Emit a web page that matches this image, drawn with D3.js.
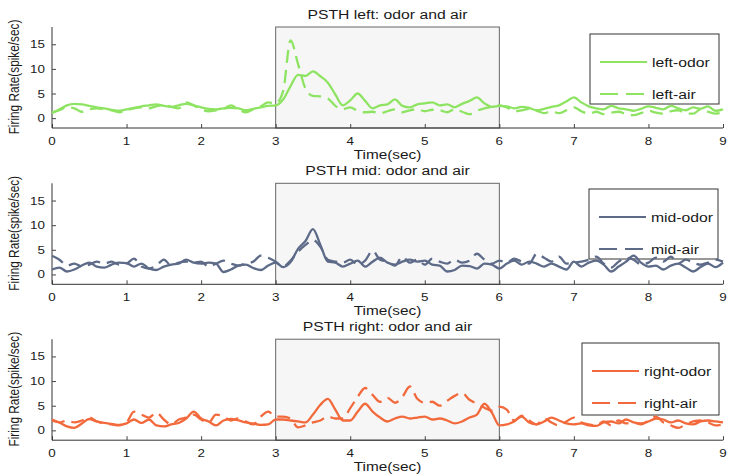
<!DOCTYPE html>
<html><head><meta charset="utf-8">
<script src="https://cdn.jsdelivr.net/npm/d3@7"></script>
<style>body{margin:0;background:#fff}svg{display:block}</style>
</head><body>
<svg id="c" width="732" height="476"></svg>
<script>
const times = d3.range(0, 9.0001, 0.1).map(t => +t.toFixed(1));
const xTicks = [0,1,2,3,4,5,6,7,8,9];
const yTicks = [0,5,10,15];
const stimulus = [3, 6];
const panelNames = ["left", "mid", "right"];
const panelTitles = ["PSTH left: odor and air", "PSTH mid: odor and air", "PSTH right: odor and air"];
const legendOdor = ["left-odor", "mid-odor", "right-odor"];
const legendAir = ["left-air", "mid-air", "right-air"];
const colors = ["#8ee462", "#5d6b88", "#f26a3c"];

const leftOdor = [1.0,1.8,2.6,2.9,2.8,2.5,2.2,2.0,1.7,1.5,
 1.8,2.1,2.4,2.6,2.8,2.5,2.3,2.6,2.9,2.6,
 2.2,1.9,1.8,2.0,2.1,2.0,1.6,1.9,2.2,2.5,
 2.6,3.8,6.5,8.8,8.6,9.5,8.5,7.2,4.8,2.6,
 3.6,5.0,3.5,2.0,2.6,2.8,3.8,2.5,2.2,2.8,
 3.0,3.2,2.6,2.8,2.2,2.9,3.5,4.2,3.0,2.3,
 2.5,2.4,2.0,2.3,2.1,1.6,1.9,2.3,2.6,3.4,
 4.2,3.2,2.4,2.0,1.8,2.5,2.0,1.8,1.5,1.9,
 2.4,2.1,1.8,2.5,2.0,1.6,2.2,1.9,2.4,1.5,1.8];
const leftAir = [1.2,1.6,2.2,2.0,1.3,1.8,2.0,1.8,1.6,1.2,
 1.6,2.0,2.2,2.0,2.4,2.7,2.3,2.0,3.2,2.6,
 1.8,1.4,1.6,1.9,2.6,1.8,1.2,1.8,2.4,3.2,
 3.0,5.5,15.8,11.0,6.0,4.5,4.4,4.0,2.5,1.8,
 2.2,1.5,1.2,1.3,1.0,1.4,1.8,1.2,1.6,1.8,
 1.4,1.7,1.6,1.2,1.8,1.3,0.8,1.5,2.0,2.3,
 2.6,2.2,1.4,1.6,1.9,1.5,1.0,1.4,1.0,1.6,
 2.2,1.4,0.9,1.3,0.8,1.1,1.3,0.8,0.6,1.0,
 1.5,1.1,0.9,1.4,1.6,1.0,0.9,1.8,1.3,0.9,1.4];
const midOdor = [1.0,1.4,0.6,1.0,1.8,2.4,1.6,1.4,2.0,2.4,
 2.3,1.6,2.2,1.2,0.9,1.6,2.0,2.2,3.0,2.4,
 2.2,2.4,2.2,0.5,1.0,1.8,2.0,1.3,0.9,1.8,
 2.4,1.5,2.5,5.2,6.8,9.2,6.0,2.6,2.4,1.6,
 2.2,2.8,1.6,2.6,3.4,2.4,2.0,2.6,3.0,2.6,
 2.8,2.0,1.8,0.6,0.9,1.8,1.7,1.2,2.2,2.0,
 1.2,2.2,2.8,2.0,2.6,2.2,1.6,2.2,1.6,1.0,
 2.6,1.6,2.4,2.8,2.0,0.6,1.6,2.6,3.8,2.4,
 1.6,1.8,1.0,1.8,2.2,1.4,0.6,1.5,2.2,1.5,2.4];
const midAir = [3.8,3.0,1.8,2.2,1.6,2.0,2.6,2.2,2.6,2.0,
 2.2,3.2,1.6,1.2,1.8,3.0,1.8,2.4,2.6,2.4,
 2.6,1.6,2.2,2.8,2.2,1.8,2.2,2.6,3.8,3.4,
 2.6,1.6,2.8,4.6,6.0,7.0,5.6,3.0,2.6,2.4,
 3.0,2.0,2.8,4.8,3.0,2.6,1.8,3.6,2.4,3.0,
 2.0,3.2,2.6,2.2,3.0,2.4,2.8,4.2,3.0,2.2,
 2.8,2.4,3.2,2.6,2.2,4.2,3.4,2.6,3.6,2.2,
 2.4,2.6,3.0,3.6,2.2,1.4,2.6,3.4,3.0,2.0,
 2.4,3.4,2.6,3.6,2.2,3.0,2.4,2.0,2.4,3.0,2.6];
const rightOdor = [2.2,1.6,0.8,0.5,1.4,2.3,1.8,1.5,1.3,1.1,
 1.4,2.2,1.5,2.2,1.0,0.8,1.2,1.5,2.4,3.8,
 2.4,1.8,1.0,2.0,2.3,2.0,1.6,1.4,1.1,1.2,
 2.2,2.2,2.0,1.8,1.6,3.2,5.2,6.4,4.2,2.0,
 2.0,3.8,5.4,3.8,2.6,1.8,2.4,2.8,2.4,2.6,
 2.8,2.2,2.4,2.0,1.4,1.8,2.6,3.2,5.4,3.6,
 1.0,1.2,1.8,2.8,1.6,1.2,1.8,2.6,2.0,1.4,
 1.2,1.4,1.0,0.9,1.6,1.8,1.4,2.2,1.6,1.4,
 1.8,2.4,2.2,1.6,2.0,1.4,1.2,1.8,2.0,1.8,1.6];
const rightAir = [2.0,1.6,2.0,1.6,2.0,2.6,1.8,1.4,1.2,1.0,
 1.6,3.8,3.2,2.6,3.6,2.2,1.2,2.2,2.6,3.2,
 2.2,1.6,3.2,2.8,2.0,2.4,1.8,1.2,2.8,3.8,
 2.8,2.8,2.4,0.6,1.0,1.6,2.0,2.8,2.4,2.4,
 4.5,6.8,8.6,7.2,5.8,6.6,5.6,6.8,8.9,6.4,
 5.6,5.8,5.0,6.0,7.0,7.6,6.2,5.4,4.6,4.0,
 4.8,4.2,2.0,3.0,2.0,1.2,2.4,1.6,1.0,1.8,
 2.6,1.6,1.2,1.0,1.8,1.0,2.0,1.4,1.6,1.2,
 2.0,2.8,1.6,1.0,0.5,1.2,1.8,2.0,1.6,1.0,1.2];

const odorSeries = [leftOdor, midOdor, rightOdor];
const airSeries = [leftAir, midAir, rightAir];

const SX = 1.28;
const FONT = "'Liberation Sans', Arial, sans-serif";
const svg = d3.select("#c");
const panelOffsets = [0, 156.3, 312.2];
const x = d3.scaleLinear().domain([0, 9]).range([52, 723]);

function txt(g, px, py, s, size, anchor, rot) {
  g.append("text")
    .attr("transform", `translate(${px},${py}) scale(${SX},1)` + (rot ? ` rotate(${rot})` : ""))
    .attr("text-anchor", anchor || "start")
    .attr("font-family", FONT).attr("font-size", size)
    .attr("fill", "#1a1a1a").text(s);
}

panelNames.forEach((name, i) => {
  const g = svg.append("g").attr("transform", `translate(0,${panelOffsets[i]})`);
  const y = d3.scaleLinear().domain([-2, 18.5]).range([128, 27]);
  const col = colors[i];

  // stimulus box
  g.append("rect")
    .attr("x", x(stimulus[0])).attr("y", y(18.5))
    .attr("width", x(stimulus[1]) - x(stimulus[0])).attr("height", y(-2) - y(18.5))
    .attr("fill", "#f6f6f7").attr("stroke", "#666").attr("stroke-width", 1);

  // axes
  const xAxis = d3.axisBottom(x).tickValues(xTicks).tickSize(-4).tickPadding(9).tickFormat(d3.format("d"));
  const ax = g.append("g").attr("transform", `translate(0,${y(-2)})`).call(xAxis);
  ax.select(".domain").attr("stroke", "#333").attr("d", `M${x(0)},0H${x(9)}`);
  ax.selectAll(".tick line").attr("stroke", "#444");
  ax.selectAll(".tick text").remove();
  xTicks.forEach(t => txt(g, x(t), y(-2) + 17, String(t), 10.5, "middle"));

  const yAxis = d3.axisLeft(y).tickValues(yTicks).tickSize(-4);
  const ay = g.append("g").attr("transform", `translate(${x(0)},0)`).call(yAxis);
  ay.select(".domain").attr("stroke", "#333").attr("d", `M0,${y(18.5)}V${y(-2)}`);
  ay.selectAll(".tick line").attr("stroke", "#444");
  ay.selectAll(".tick text").remove();
  yTicks.forEach(v => txt(g, 45, y(v) + 4, String(v), 10.5, "end"));

  // labels
  txt(g, (x(0) + x(9)) / 2, 19, panelTitles[i], 12.3, "middle");
  txt(g, (x(0) + x(9)) / 2, 159, "Time(sec)", 12, "middle");
  txt(g, 19, 77, "Firing Rate(spike/sec)", 11.8, "middle", -90);

  // legend box (behind lines)
  const lg = { x: 590, y: 34, w: 129, h: 70 };
  if (i === 1) { lg.x = 589; lg.y = 189 - panelOffsets[1]; }
  if (i === 2) { lg.x = 582; lg.w = 137; lg.y = 343 - panelOffsets[2]; lg.h = 72; }
  g.append("rect").attr("x", lg.x).attr("y", lg.y).attr("width", lg.w).attr("height", lg.h)
    .attr("fill", "#fff").attr("stroke", "#333").attr("stroke-width", 1);

  const line = d3.line().x((d, k) => x(times[k])).y(d => y(d)).curve(d3.curveMonotoneX);
  g.append("path").datum(airSeries[i]).attr("d", line)
    .attr("fill", "none").attr("stroke", col).attr("stroke-width", 2.3)
    .attr("stroke-dasharray", "13,7").attr("stroke-linejoin", "round");
  g.append("path").datum(odorSeries[i]).attr("d", line)
    .attr("fill", "none").attr("stroke", col).attr("stroke-width", 2.3)
    .attr("stroke-linejoin", "round");

  // legend entries
  const rows = [lg.y + 28, lg.y + 60];
  const sx0 = lg.x + 10, sx1 = lg.x + 57;
  g.append("line").attr("x1", sx0).attr("x2", sx1).attr("y1", rows[0]).attr("y2", rows[0])
    .attr("stroke", col).attr("stroke-width", 2.2);
  g.append("line").attr("x1", sx0).attr("x2", sx1).attr("y1", rows[1]).attr("y2", rows[1])
    .attr("stroke", col).attr("stroke-width", 2.2).attr("stroke-dasharray", "18,8");
  txt(g, sx1 + 5, rows[0] + 5, legendOdor[i], 12.3, "start");
  txt(g, sx1 + 5, rows[1] + 5, legendAir[i], 12.3, "start");
});
</script>
</body></html>
